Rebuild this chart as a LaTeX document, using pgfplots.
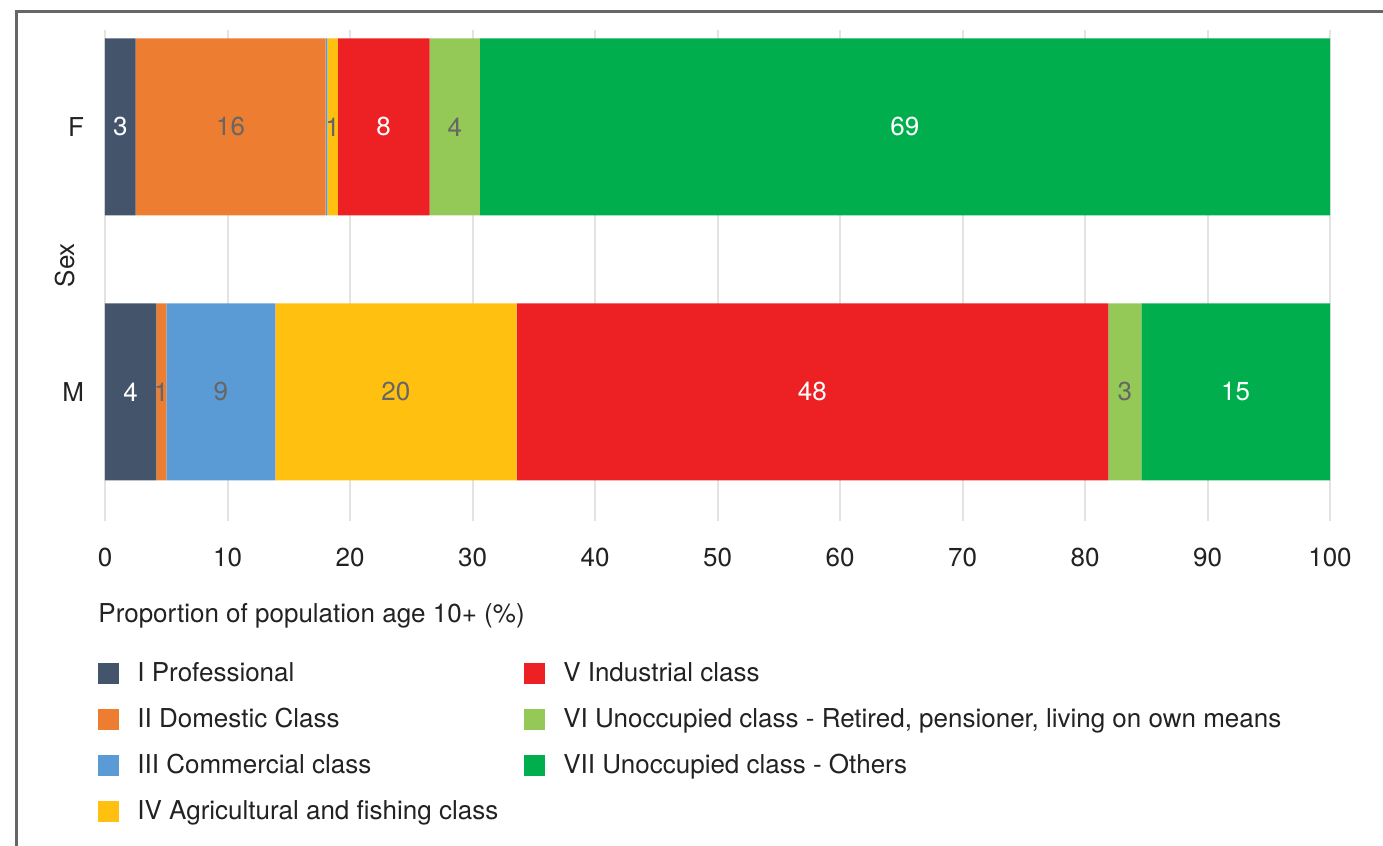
\documentclass[border=0pt]{standalone}
\usepackage{fontspec}
\setmainfont{TeX Gyre Heros}
\usepackage{pgfplots}
\pgfplotsset{compat=1.18}

\definecolor{cI}{HTML}{44546A}
\definecolor{cII}{HTML}{ED7D31}
\definecolor{cIII}{HTML}{5B9BD5}
\definecolor{cIV}{HTML}{FFC010}
\definecolor{cV}{HTML}{ED2024}
\definecolor{cVI}{HTML}{94C857}
\definecolor{cVII}{HTML}{00AE4D}
\definecolor{txt}{HTML}{222222}
\definecolor{lbl}{HTML}{666666}
\definecolor{gridc}{HTML}{E3E3E3}
\definecolor{framec}{HTML}{666666}

\newcommand\chartfont{\fontsize{13}{15.6}\selectfont}

\pgfplotsset{
  sexaxis/.style={
    at={(52.5pt,162.5pt)}, anchor=south west,
    scale only axis, width=612.5pt, height=245.5pt,
    xmin=0, xmax=100, ymin=-0.487, ymax=1.366,
  }
}

\begin{document}
\begin{tikzpicture}
\path[use as bounding box] (0,0) rectangle (691.5pt,423pt);
\draw[framec, line width=1.5pt] (8pt,-5pt) -- (8pt,417.25pt) -- (700pt,417.25pt);

% stacked bars: y=1 is F, y=0 is M
\begin{axis}[sexaxis,
  xbar stacked, bar width=0.668,
  axis line style={draw=none},
  major tick length=0,
  xtick={0,10,...,100},
  ytick={0,1}, yticklabels={M,F},
  xmajorgrids, grid style={gridc, line width=1pt},
  tick label style={font=\chartfont, text=txt},
  /pgf/number format/assume math mode=true,
  xticklabel style={yshift=-10pt},
  yticklabel style={xshift=-7pt},
  xlabel={Proportion of population age 10+ (\%)},
  xlabel style={at={(axis description cs:-0.0057,-0.193)}, anchor=west, inner sep=0pt, font=\chartfont, text=txt},
  ylabel={Sex},
  ylabel style={at={(axis description cs:-0.0327,0.521)}, anchor=center, font=\chartfont, text=txt},
  legend columns=2,
  legend cell align=left,
  legend style={at={(axis description cs:-0.0057,-0.2873)}, anchor=north west,
    draw=none, fill=none, inner sep=0pt, font=\chartfont, text=txt,
    row sep=11pt, column sep=9pt,
    nodes={inner sep=0pt, text height=9.5pt, text depth=2.5pt},
    /tikz/every even column/.append style={column sep=13pt}},
  legend image code/.code={\fill[#1, draw=none] (0pt,-4.75pt) rectangle (10.5pt,5.75pt);},
]
\addplot[fill=cI,   draw=none, forget plot] coordinates {(4.2,0)  (2.5,1)};
\addplot[fill=cII,  draw=none, forget plot] coordinates {(0.8,0)  (15.5,1)};
\addplot[fill=cIII, draw=none, forget plot] coordinates {(8.9,0)  (0.15,1)};
\addplot[fill=cIV,  draw=none, forget plot] coordinates {(19.7,0) (0.85,1)};
\addplot[fill=cV,   draw=none, forget plot] coordinates {(48.3,0) (7.5,1)};
\addplot[fill=cVI,  draw=none, forget plot] coordinates {(2.7,0)  (4.1,1)};
\addplot[fill=cVII, draw=none, forget plot] coordinates {(15.4,0) (69.4,1)};

% legend laid out in two columns, read down each column
\addlegendimage{fill=cI}   \addlegendentry{I Professional}
\addlegendimage{fill=cV}   \addlegendentry{V Industrial class}
\addlegendimage{fill=cII}  \addlegendentry{II Domestic Class}
\addlegendimage{fill=cVI}  \addlegendentry{VI Unoccupied class - Retired, pensioner, living on own means}
\addlegendimage{fill=cIII} \addlegendentry{III Commercial class}
\addlegendimage{fill=cVII} \addlegendentry{VII Unoccupied class - Others}
\addlegendimage{fill=cIV}  \addlegendentry{IV Agricultural and fishing class}
\end{axis}

% segment value labels, placed at the middle of each segment
\begin{axis}[sexaxis, hide axis,
  nodes near coords, point meta=explicit symbolic,
  every node near coord/.append style={anchor=center, font=\chartfont},
]
\addplot[draw=none, mark=none, every node near coord/.append style={text=white}]
  coordinates {(1.25,1)[3] (22.75,1)[8] (65.3,1)[69] (2.1,0)[4] (57.75,0)[48] (92.3,0)[15]};
\addplot[draw=none, mark=none, every node near coord/.append style={text=lbl}]
  coordinates {(10.25,1)[16] (18.575,1)[1] (28.55,1)[4] (4.6,0)[1] (9.45,0)[9] (23.75,0)[20] (83.25,0)[3]};
\end{axis}
\end{tikzpicture}
\end{document}
